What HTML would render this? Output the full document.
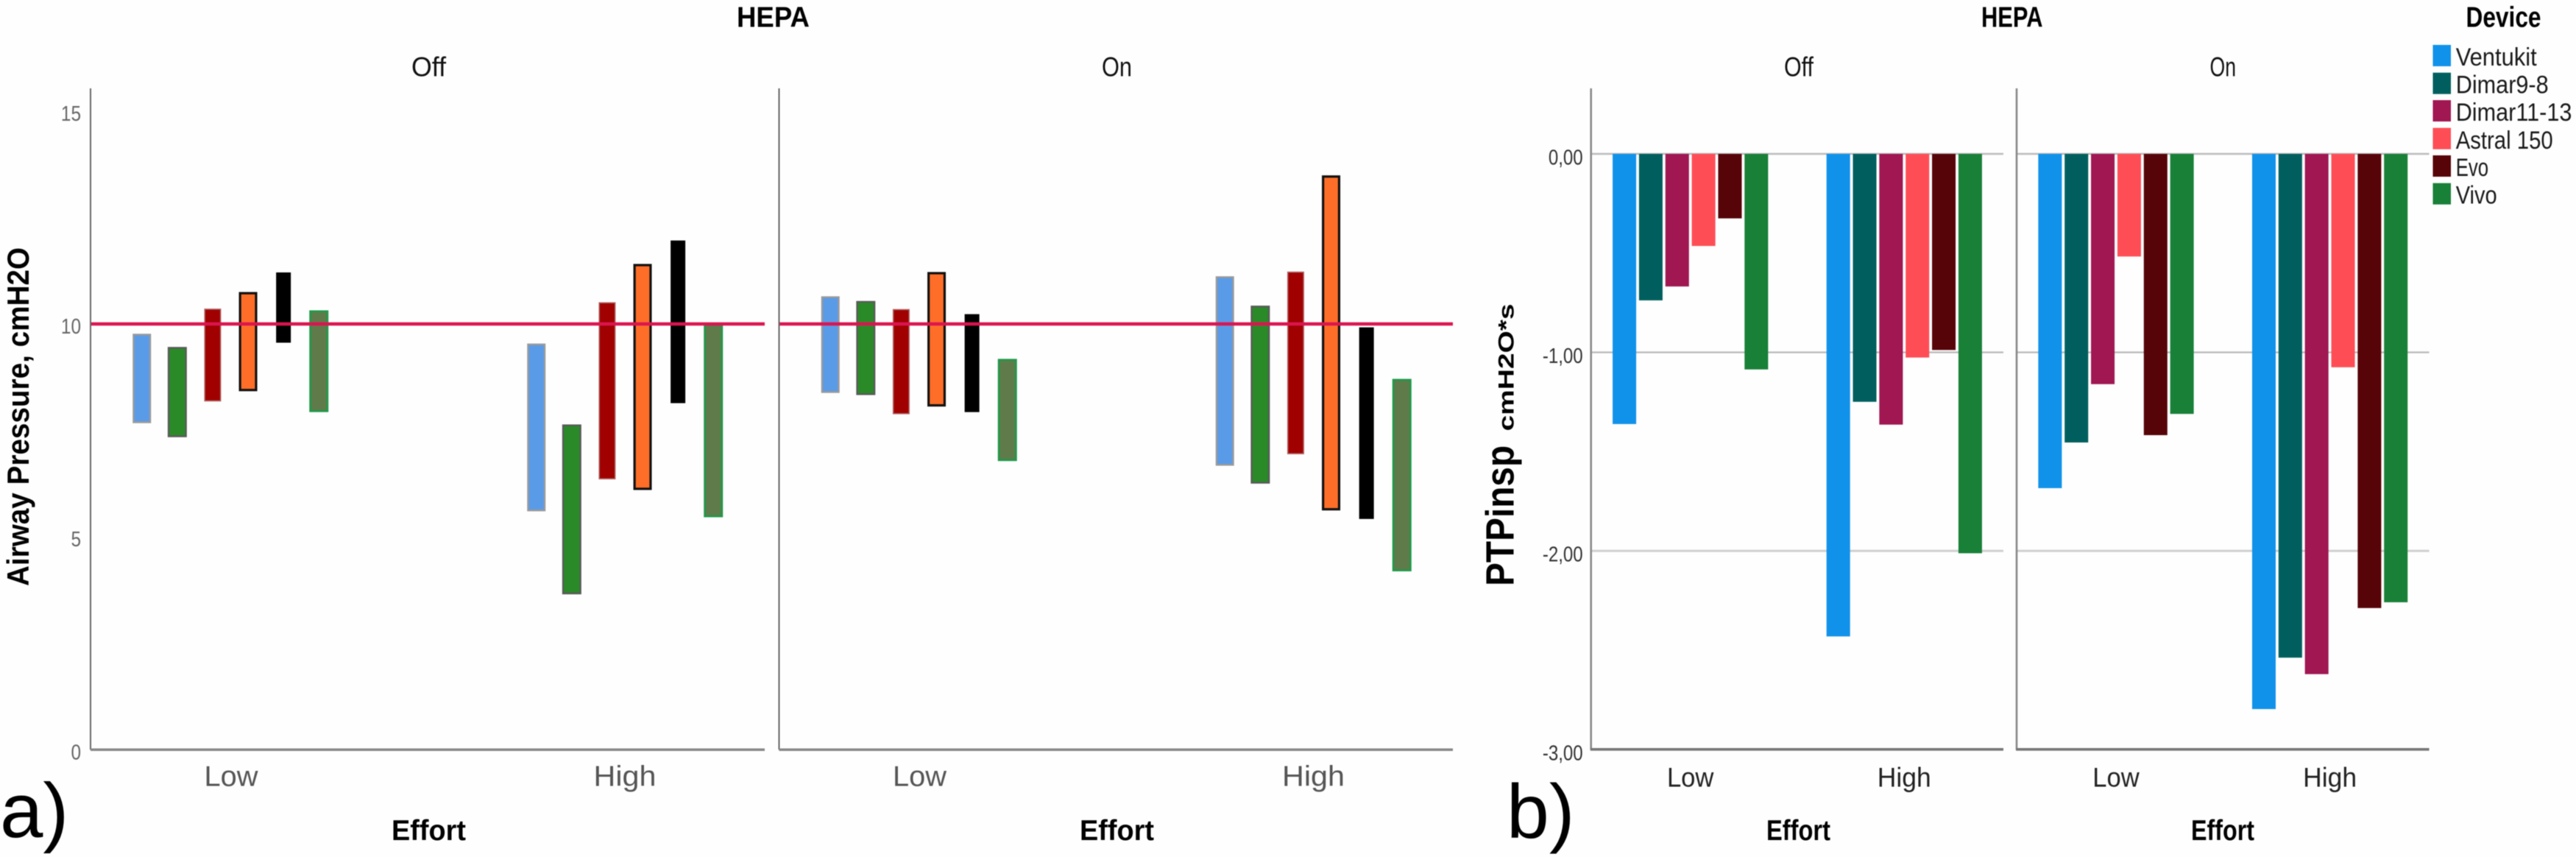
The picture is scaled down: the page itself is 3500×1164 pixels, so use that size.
<!DOCTYPE html>
<html lang="en">
<head>
<meta charset="utf-8">
<title>Airway Pressure and PTPinsp by Effort, HEPA and Device</title>
<style>
html,body{margin:0;padding:0;background:#fff;width:3500px;height:1164px;overflow:hidden}
svg{display:block;filter:blur(0.6px)}
text{font-family:"Liberation Sans",sans-serif}
.b{font-weight:bold;fill:#000}
</style>
</head>
<body>
<svg id="chart" xmlns="http://www.w3.org/2000/svg" width="3500" height="1164" viewBox="0 0 3500 1164">
  <rect x="0" y="0" width="3500" height="1164" fill="#fefefe"/>
  <g id="plots"></g>

  <!-- Panel a text -->
  <text class="b" x="1001" y="36.5" font-size="39" textLength="99" lengthAdjust="spacingAndGlyphs">HEPA</text>
  <text x="559" y="103.5" font-size="37" fill="#111" textLength="47" lengthAdjust="spacingAndGlyphs">Off</text>
  <text x="1497" y="103.5" font-size="37" fill="#111" textLength="41" lengthAdjust="spacingAndGlyphs">On</text>
  <text class="b" transform="translate(39 796) rotate(-90)" font-size="42" textLength="460" lengthAdjust="spacingAndGlyphs">Airway Pressure, cmH2O</text>
  <text class="b" x="532" y="1141" font-size="39" textLength="101" lengthAdjust="spacingAndGlyphs">Effort</text>
  <text class="b" x="1467" y="1141" font-size="39" textLength="101" lengthAdjust="spacingAndGlyphs">Effort</text>
  <text x="0" y="1137" font-size="105" fill="#000">a)</text>

  <!-- Panel b text -->
  <text class="b" x="2692" y="36.5" font-size="39" textLength="83.5" lengthAdjust="spacingAndGlyphs">HEPA</text>
  <text x="2424" y="103.5" font-size="37" fill="#111" textLength="40" lengthAdjust="spacingAndGlyphs">Off</text>
  <text x="3002.5" y="103.5" font-size="37" fill="#111" textLength="35.5" lengthAdjust="spacingAndGlyphs">On</text>
  <text class="b" transform="translate(2056.4 796) rotate(-90)" font-size="54" textLength="191" lengthAdjust="spacingAndGlyphs">PTPinsp</text>
  <text class="b" transform="translate(2056.4 585.5) rotate(-90)" font-size="30" textLength="173" lengthAdjust="spacingAndGlyphs">cmH2O*s</text>
  <text class="b" x="2400" y="1141" font-size="39" textLength="87" lengthAdjust="spacingAndGlyphs">Effort</text>
  <text class="b" x="2977" y="1141" font-size="39" textLength="86" lengthAdjust="spacingAndGlyphs">Effort</text>
  <text x="2047" y="1138" font-size="104" fill="#000">b)</text>

  <!-- Legend -->
  <g>
    <text class="b" x="3350.5" y="36.5" font-size="39" textLength="102" lengthAdjust="spacingAndGlyphs">Device</text>
    <g><rect x="3305.5" y="61" width="24.5" height="29" fill="#1192ea"/><text x="3336.7" y="88.8" font-size="34" fill="#1a1a1a" textLength="110" lengthAdjust="spacingAndGlyphs">Ventukit</text></g>
    <g><rect x="3305.5" y="98.7" width="24.5" height="29" fill="#005f5e"/><text x="3336.7" y="126.3" font-size="34" fill="#1a1a1a" textLength="126" lengthAdjust="spacingAndGlyphs">Dimar9-8</text></g>
    <g><rect x="3305.5" y="136" width="24.5" height="29" fill="#a01752"/><text x="3336.7" y="163.8" font-size="34" fill="#1a1a1a" textLength="157.7" lengthAdjust="spacingAndGlyphs">Dimar11-13</text></g>
    <g><rect x="3305.5" y="173.7" width="24.5" height="29" fill="#ff4d56"/><text x="3336.7" y="202" font-size="34" fill="#1a1a1a" textLength="132" lengthAdjust="spacingAndGlyphs">Astral 150</text></g>
    <g><rect x="3305.5" y="211" width="24.5" height="29" fill="#570408"/><text x="3336.7" y="239" font-size="34" fill="#1a1a1a" textLength="44.4" lengthAdjust="spacingAndGlyphs">Evo</text></g>
    <g><rect x="3305.5" y="248.7" width="24.5" height="29" fill="#198038"/><text x="3336.7" y="276.3" font-size="34" fill="#1a1a1a" textLength="56" lengthAdjust="spacingAndGlyphs">Vivo</text></g>
  </g>
</svg>
<script>
// ---- Data ----
const devices = ['Ventukit', 'Dimar9-8', 'Dimar11-13', 'Astral 150', 'Evo', 'Vivo'];
const efforts = ['Low', 'High'];
const hepaStates = ['Off', 'On'];

// Panel a: floating pressure range per device (top and bottom, cmH2O)
const pressureOffLowTop = [9.77, 9.46, 10.36, 10.75, 11.21, 10.32];
const pressureOffLowBottom = [7.67, 7.34, 8.18, 8.42, 9.56, 7.93];
const pressureOffHighTop = [9.54, 7.64, 10.51, 11.41, 11.96, 10.0];
const pressureOffHighBottom = [5.6, 3.65, 6.35, 6.1, 8.14, 5.46];
const pressureOnLowTop = [10.65, 10.54, 10.35, 11.22, 10.23, 9.18];
const pressureOnLowBottom = [8.38, 8.33, 7.88, 8.06, 7.93, 6.78];
const pressureOnHighTop = [11.12, 10.43, 11.23, 13.49, 9.92, 8.71];
const pressureOnHighBottom = [6.67, 6.25, 6.94, 5.62, 5.42, 4.19];
const pressureTarget = [10];
const pressureTicks = [0, 5, 10, 15];

// Panel b: PTPinsp mean per device (cmH2O*s)
const ptpOffLow = [-1.361, -0.738, -0.668, -0.464, -0.325, -1.086];
const ptpOffHigh = [-2.431, -1.249, -1.364, -1.026, -0.988, -2.012];
const ptpOnLow = [-1.684, -1.454, -1.16, -0.517, -1.417, -1.31];
const ptpOnHigh = [-2.797, -2.538, -2.621, -1.075, -2.288, -2.259];
const ptpTicks = [0, -1, -2, -3];

// ---- Styles ----
const pressureFills = ['#5a9be8', '#2a8a28', '#a00000', '#ff6e28', '#000000', '#5f7b4a'];
const pressureStrokes = ['#9a9a9a', '#5a5a5a', '#b06060', '#111111', '#000000', '#1e9a4a'];
const pressureStrokeWidths = [2.4, 2.4, 1.6, 3.2, 1, 2.6];
const pressureWidths = [25, 26, 23, 25, 20, 26];
const ptpFills = ['#1192ea', '#005f5e', '#a01752', '#ff4d56', '#570408', '#198038'];

// ---- Axis functions ----
const svg = document.getElementById('plots');
const NS = 'http://www.w3.org/2000/svg';
const yPressure = v => 1018.3 - v * 57.83;
const yPtp = v => 209 - v * 269.6;
const panelsA = [{l: 123, r: 1039}, {l: 1058.5, r: 1974}];
const panelsB = [{l: 2161.7, r: 2722}, {l: 2740, r: 3300.5}];
const xPressure = (p, e) => panelsA[p].l + (e === 0 ? 190 : 726);
const xPtp = (p, e) => panelsB[p].l + (e === 0 ? 135 : 425.6);

function make(tag, attrs, text) {
  const el = document.createElementNS(NS, tag);
  for (const k in attrs) el.setAttribute(k, attrs[k]);
  if (text !== undefined) el.textContent = text;
  svg.appendChild(el);
  return el;
}
function hline(x1, x2, y, color, w) {
  return make('line', {x1: x1, x2: x2, y1: y, y2: y, stroke: color, 'stroke-width': w});
}
function vline(x, y1, y2, color, w) {
  return make('line', {x1: x, x2: x, y1: y1, y2: y2, stroke: color, 'stroke-width': w});
}
function slug(s) { return s.toLowerCase().replace(/[^a-z0-9]+/g, '-'); }

// ---- Panel a ----
const pressureTops = [[pressureOffLowTop, pressureOffHighTop], [pressureOnLowTop, pressureOnHighTop]];
const pressureBottoms = [[pressureOffLowBottom, pressureOffHighBottom], [pressureOnLowBottom, pressureOnHighBottom]];

pressureTicks.forEach(v => {
  const t = make('text', {x: 110, y: yPressure(v) + 13, 'text-anchor': 'end', 'font-size': 29, fill: '#666'}, String(v));
  
  
  t.setAttribute('textLength', t.getComputedTextLength() * 0.84);
  t.setAttribute('lengthAdjust', 'spacingAndGlyphs');
});

panelsA.forEach((panel, p) => {
  const ax = vline(panel.l, 120, yPressure(0), '#666', 2);
  
  
  const bl = hline(panel.l, panel.r, yPressure(0), '#888', 3.5);
  
  
  efforts.forEach((eff, e) => {
    const cx = xPressure(p, e);
    const lab = make('text', {x: cx + (e === 0 ? 1 : 0), y: 1067.6, 'text-anchor': 'middle', 'font-size': 39, fill: '#555'}, eff);
    
    
    lab.setAttribute('textLength', e === 0 ? 73 : 85);
    lab.setAttribute('lengthAdjust', 'spacingAndGlyphs');
    devices.forEach((d, i) => {
      const w = pressureWidths[i];
      const sw = pressureStrokeWidths[i];
      const c = cx + (i - 2.5) * 48.1;
      const y1 = yPressure(pressureTops[p][e][i]);
      const y2 = yPressure(pressureBottoms[p][e][i]);
      const r = make('rect', {x: c - w / 2 + sw / 2, y: y1 + sw / 2, width: w - sw, height: y2 - y1 - sw, fill: pressureFills[i], stroke: pressureStrokes[i], 'stroke-width': sw});
      
      
    });
  });
  pressureTarget.forEach(v => {
    const line = hline(panel.l + 1, panel.r, yPressure(v), '#dc1450', 4.6);
    
    
  });
});

// ---- Panel b ----
const ptpValues = [[ptpOffLow, ptpOffHigh], [ptpOnLow, ptpOnHigh]];

ptpTicks.forEach(v => {
  const label = v.toFixed(2).replace('.', ',');
  const t = make('text', {x: 2150.7, y: yPtp(v) + 14.5, 'text-anchor': 'end', 'font-size': 29, fill: '#333'}, label);
  
  
  t.setAttribute('textLength', t.getComputedTextLength() * 0.83);
  t.setAttribute('lengthAdjust', 'spacingAndGlyphs');
});

panelsB.forEach((panel, p) => {
  ptpTicks.slice(0, 3).forEach(v => {
    const g = hline(panel.l, panel.r, yPtp(v), v === -2 ? '#cfcfcf' : '#bbbbbb', v === -2 ? 3 : 2.4);
    
    
  });
  const ax = vline(panel.l, 120, yPtp(-3), '#888', 2.6);
  
  
  const bl = hline(panel.l - 1, panel.r, yPtp(-3), '#777', 3.6);
  
  
  efforts.forEach((eff, e) => {
    const cx = xPtp(p, e);
    const lab = make('text', {x: cx, y: 1068.5, 'text-anchor': 'middle', 'font-size': 37, fill: '#222'}, eff);
    
    
    lab.setAttribute('textLength', e === 0 ? 63.5 : 73);
    lab.setAttribute('lengthAdjust', 'spacingAndGlyphs');
    devices.forEach((d, i) => {
      const c = cx + (i - 2.5) * 35.85;
      const y1 = yPtp(0);
      const y2 = yPtp(ptpValues[p][e][i]);
      const r = make('rect', {x: c - 16, y: y1, width: 32, height: y2 - y1, fill: ptpFills[i]});
      
      
    });
  });
});
</script>
</body>
</html>
